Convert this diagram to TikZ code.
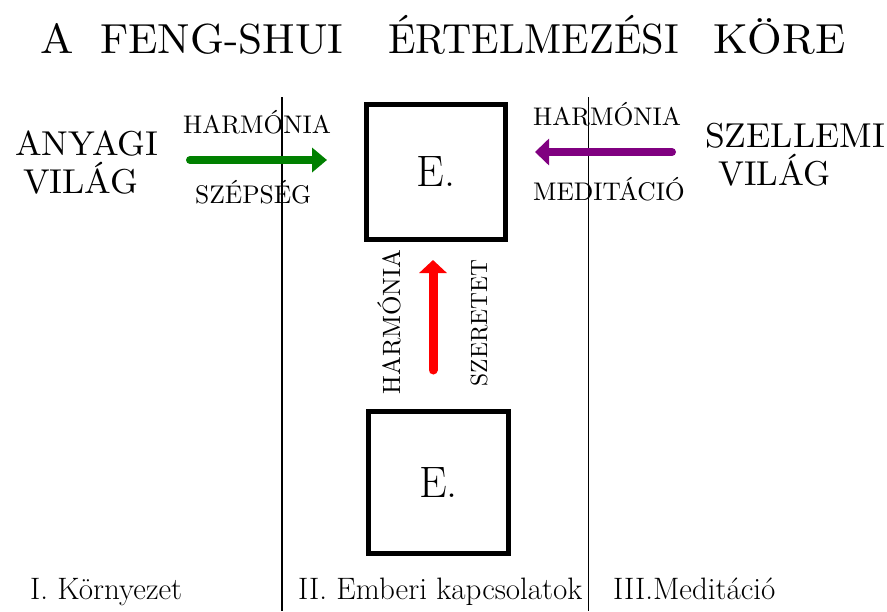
\documentclass[tikz,border=0pt]{standalone}
\usepackage{fontspec}
\newfontfamily\fsN{lmroman10-regular}[Extension=.otf]
\newfontfamily\fsTa{lmroman10-regular}[Extension=.otf,FakeStretch=0.965]
\newfontfamily\fsBg{lmroman10-regular}[Extension=.otf,FakeStretch=1.03]
\newfontfamily\fsK{lmroman10-regular}[Extension=.otf,FakeStretch=1.06]
\usetikzlibrary{arrows.meta}
\definecolor{fsgreen}{RGB}{0,128,0}
\definecolor{fspurple}{RGB}{128,0,128}
\definecolor{fsred}{RGB}{255,0,0}
\tikzset{
  ttl/.style={anchor=base west,inner sep=0pt},
  big/.style={anchor=base west,inner sep=0pt,font=\fsBg\fontsize{34.5}{41}\selectfont},
  small/.style={anchor=base west,inner sep=0pt,font=\fsN\fontsize{25.5}{31}\selectfont},
  vsmall/.style={anchor=base,inner sep=0pt,rotate=90},
  foot/.style={anchor=base west,inner sep=0pt,font=\fontsize{31}{37}\selectfont},
  ebox/.style={draw,line width=5pt,rectangle,inner sep=0pt,font=\fontsize{44}{53}\selectfont},
  divider/.style={line width=1.5pt},
  fat/.style={line cap=round},
}
\begin{document}
\begin{tikzpicture}[x=1pt,y=-1pt]
\useasboundingbox (0,0) rectangle (887,611);
% title
\node[ttl,font=\fsK\fontsize{42}{50}\selectfont] (t1) at (40,53) {A};
\node[ttl,font=\fsBg\fontsize{42}{50}\selectfont] (t2) at (100,53) {FENG-SHUI};
\node[ttl,font=\fsTa\fontsize{42}{50}\selectfont] (t3) at (388,53) {ÉRTELMEZÉSI};
\node[ttl,font=\fsK\fontsize{42}{50}\selectfont] (t4) at (713,53) {KÖRE};
% dividers
\coordinate (l1a) at (282,97);
\coordinate (l1b) at (282,611);
\coordinate (l2a) at (588.5,97);
\coordinate (l2b) at (588.5,611);
\draw[divider] (l1a) -- (l1b);
\draw[divider] (l2a) -- (l2b);
% boxes
\node[ebox,minimum width=139pt,minimum height=135pt] (e1) at (436,172) {E.};
\node[ebox,minimum width=140pt,minimum height=142pt] (e2) at (438.5,482.5) {E.};
% left side
\node[big] (anyagi) at (15,155) {ANYAGI};
\node[big] (vilag1) at (23,193) {VILÁG};
\node[small] (harm1) at (183,133) {HARMÓNIA};
\node[small] (szep) at (195,203) {SZÉPSÉG};
% right side
\node[big] (szell) at (705,147) {SZELLEMI};
\node[big,font=\fsN\fontsize{34.5}{41}\selectfont] (vilag2) at (718,185) {VILÁG};
\node[small] (harm2) at (533,125) {HARMÓNIA};
\node[small] (medit) at (533,200) {MEDITÁCIÓ};
% vertical labels
\node[vsmall,font=\fsN\fontsize{25}{30}\selectfont] (harm3) at (400,322) {HARMÓNIA};
\node[vsmall,font=\fsN\fontsize{23.5}{28}\selectfont] (szer) at (487,323) {SZERETET};
% arrows
\coordinate (ga) at (190,160);
\coordinate (gb) at (327,160);
\coordinate (pa) at (672,152);
\coordinate (pb) at (535,152);
\coordinate (ra) at (433,370);
\coordinate (rb) at (433,260);
\draw[fat,fsgreen,line width=8pt,-{Triangle[length=15pt,width=24pt]}] (ga) -- (gb);
\draw[fat,fspurple,line width=8pt,-{Triangle[length=14pt,width=26pt]}] (pa) -- (pb);
\draw[fat,fsred,line width=9pt,-{Triangle[length=13pt,width=27pt]}] (ra) -- (rb);
% footer
\node[foot] (f1) at (30,599) {I. Környezet};
\node[foot] (f2) at (298,599) {II. Emberi kapcsolatok};
\node[foot] (f3) at (613,599) {III.Meditáció};
\end{tikzpicture}
\end{document}
